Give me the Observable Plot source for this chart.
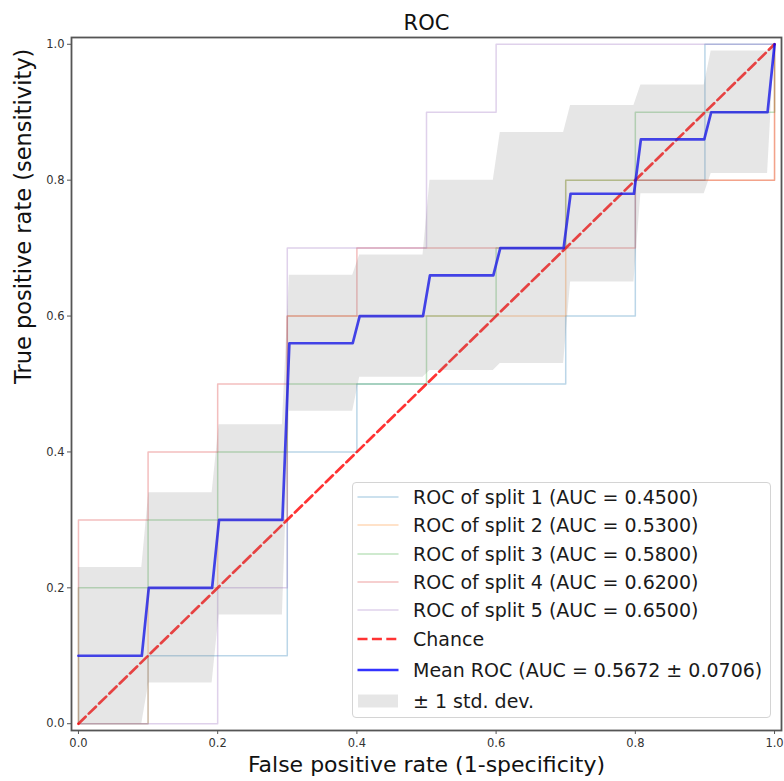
<!DOCTYPE html>
<html>
<head>
<meta charset="utf-8">
<script src="https://cdn.jsdelivr.net/npm/d3@7"></script>
<script src="https://cdn.jsdelivr.net/npm/@observablehq/plot@0.6"></script>
<style>
  body { margin: 0; background: #fff; font-family: "DejaVu Sans", sans-serif; }
  #wrap { position: relative; width: 784px; height: 781px; }
  #legend { position: absolute; left: 352px; top: 482px; width: 419px; height: 236px;
            border: 1px solid #d4d4d4; border-radius: 4px; background: rgba(255,255,255,0.8);
            font-size: 19px; color: #1a1a1a; box-sizing: border-box; }
  .row { position: absolute; left: 0; height: 28px; display: flex; align-items: center; white-space: nowrap; }
  .row svg { position: absolute; left: 4px; top: 0; }
  .row span { position: absolute; left: 60px; line-height: 28px; }
</style>
</head>
<body>
<div id="wrap"></div>
<script>
// ---- data ----
const chartTitle = "ROC";
const xLabel = "False positive rate (1-specificity)";
const yLabel = "True positive rate (sensitivity)";
const tickValues = [0, 0.2, 0.4, 0.6, 0.8, 1.0];

const splitLabels = [
  "ROC of split 1 (AUC = 0.4500)",
  "ROC of split 2 (AUC = 0.5300)",
  "ROC of split 3 (AUC = 0.5800)",
  "ROC of split 4 (AUC = 0.6200)",
  "ROC of split 5 (AUC = 0.6500)"
];
const split1Fpr = [0, 0.1, 0.1, 0.3, 0.3, 0.4, 0.4, 0.7, 0.7, 0.8, 0.8, 0.9, 0.9, 1.0];
const split1Tpr = [0, 0, 0.1, 0.1, 0.4, 0.4, 0.5, 0.5, 0.6, 0.6, 0.8, 0.8, 1.0, 1.0];
const split2Fpr = [0, 0.1, 0.1, 0.2, 0.2, 0.3, 0.3, 0.7, 0.7, 1.0, 1.0];
const split2Tpr = [0, 0, 0.2, 0.2, 0.3, 0.3, 0.6, 0.6, 0.8, 0.8, 1.0];
const split3Fpr = [0, 0, 0.1, 0.1, 0.2, 0.2, 0.3, 0.3, 0.5, 0.5, 0.6, 0.6, 0.7, 0.7, 0.8, 0.8, 1.0, 1.0];
const split3Tpr = [0, 0.2, 0.2, 0.3, 0.3, 0.4, 0.4, 0.5, 0.5, 0.6, 0.6, 0.7, 0.7, 0.8, 0.8, 0.9, 0.9, 1.0];
const split4Fpr = [0, 0, 0.1, 0.1, 0.2, 0.2, 0.3, 0.3, 0.4, 0.4, 0.8, 0.8, 1.0, 1.0];
const split4Tpr = [0, 0.3, 0.3, 0.4, 0.4, 0.5, 0.5, 0.6, 0.6, 0.7, 0.7, 0.8, 0.8, 1.0];
const split5Fpr = [0, 0.2, 0.2, 0.3, 0.3, 0.5, 0.5, 0.6, 0.6, 1.0];
const split5Tpr = [0, 0, 0.2, 0.2, 0.7, 0.7, 0.9, 0.9, 1.0, 1.0];

const chanceLabel = "Chance";
const chanceFpr = [0, 1];
const chanceTpr = [0, 1];

const meanLabel = "Mean ROC (AUC = 0.5672 \u00b1 0.0706)";
const meanFpr = [0, 0.091, 0.101, 0.192, 0.202, 0.293, 0.303, 0.394, 0.404, 0.495, 0.505, 0.596, 0.606, 0.697, 0.707, 0.798, 0.808, 0.899, 0.909, 0.990, 1.0];
const meanTpr = [0.10, 0.10, 0.20, 0.20, 0.30, 0.30, 0.56, 0.56, 0.60, 0.60, 0.66, 0.66, 0.70, 0.70, 0.78, 0.78, 0.86, 0.86, 0.90, 0.90, 1.00];

const bandLabel = "\u00b1 1 std. dev.";
const bandLower = [0, 0, 0.06, 0.06, 0.16, 0.16, 0.46, 0.46, 0.51, 0.51, 0.52, 0.52, 0.53, 0.53, 0.65, 0.65, 0.78, 0.78, 0.81, 0.81, 1.0];
const bandUpper = [0.23, 0.23, 0.34, 0.34, 0.44, 0.44, 0.66, 0.66, 0.69, 0.69, 0.80, 0.80, 0.87, 0.87, 0.91, 0.91, 0.94, 0.94, 0.99, 0.99, 1.0];

// ---- styles ----
const splitColors = ["#1f77b4", "#ff7f0e", "#2ca02c", "#d62728", "#9467bd"];
const font = "DejaVu Sans, sans-serif";

// ---- tables ----
const splitFprs = [split1Fpr, split2Fpr, split3Fpr, split4Fpr, split5Fpr];
const splitTprs = [split1Tpr, split2Tpr, split3Tpr, split4Tpr, split5Tpr];
const splitTables = splitFprs.map((f, i) => f.map((x, j) => ({fpr: x, tpr: splitTprs[i][j]})));
const chanceTable = chanceFpr.map((x, j) => ({fpr: x, tpr: chanceTpr[j]}));
const meanTable = meanFpr.map((x, j) => ({fpr: x, tpr: meanTpr[j]}));
const bandTable = meanFpr.map((x, j) => ({fpr: x, lo: bandLower[j], hi: bandUpper[j]}));

const plot = Plot.plot({
  width: 784,
  height: 781,
  marginLeft: 71,
  marginRight: 3,
  marginTop: 37,
  marginBottom: 51,
  style: {fontFamily: font, background: "#fff", color: "#222"},
  x: {domain: [-0.01, 1.01]},
  y: {domain: [-0.01, 1.01]},
  marks: [
    ...splitTables.map((t, i) => Plot.line(t, {x: "fpr", y: "tpr", stroke: splitColors[i], strokeOpacity: 0.3, strokeWidth: 1.5})),
    Plot.line(chanceTable, {x: "fpr", y: "tpr", stroke: "#ff0000", strokeOpacity: 0.8, strokeWidth: 2.7, strokeDasharray: "10,4.4"}),
    Plot.line(meanTable, {x: "fpr", y: "tpr", stroke: "#0000ff", strokeOpacity: 0.8, strokeWidth: 2.7}),
    Plot.areaY(bandTable, {x: "fpr", y1: "lo", y2: "hi", fill: "#808080", fillOpacity: 0.2}),
    Plot.frame({stroke: "#555", strokeWidth: 1.8}),
    Plot.axisX({ticks: tickValues, tickFormat: d3.format(".1f"), tickSize: 4, tickPadding: 4, fontSize: 11.5, stroke: "#555", fill: "#333", label: null}),
    Plot.axisY({ticks: tickValues, tickFormat: d3.format(".1f"), tickSize: 4, tickPadding: 3, fontSize: 11.5, stroke: "#555", fill: "#333", label: null}),
    Plot.text([chartTitle], {frameAnchor: "top", lineAnchor: "bottom", dy: -8, fontSize: 21, fill: "#111"}),
    Plot.text([xLabel], {frameAnchor: "bottom", lineAnchor: "bottom", dy: 41, fontSize: 22, fill: "#111"}),
    Plot.text([yLabel], {frameAnchor: "left", lineAnchor: "bottom", rotate: -90, dx: -41, fontSize: 22.5, fill: "#111"})
  ]
});

const wrap = document.getElementById("wrap");
wrap.appendChild(plot);

// ---- legend ----
const legend = document.createElement("div");
legend.id = "legend";
const rowCenters = [14, 42, 70.5, 99, 127, 155.5, 187, 218];
const entries = [
  ...splitLabels.map((l, i) => ({label: l, kind: "line", color: splitColors[i], opacity: 0.3, width: 1.5})),
  {label: chanceLabel, kind: "dash", color: "#ff0000", opacity: 0.8, width: 2.7},
  {label: meanLabel, kind: "line", color: "#0000ff", opacity: 0.8, width: 2.7},
  {label: bandLabel, kind: "patch", color: "#808080", opacity: 0.2}
];
entries.forEach((e, i) => {
  const row = document.createElement("div");
  row.className = "row";
  row.style.top = (rowCenters[i] - 14) + "px";
  let handle;
  if (e.kind === "patch") {
    handle = `<svg width="42" height="28"><rect x="1" y="7.5" width="40" height="13" fill="${e.color}" fill-opacity="${e.opacity}"/></svg>`;
  } else {
    const dash = e.kind === "dash" ? ` stroke-dasharray="10,4.4"` : "";
    handle = `<svg width="42" height="28"><line x1="0.5" x2="41.5" y1="14" y2="14" stroke="${e.color}" stroke-opacity="${e.opacity}" stroke-width="${e.width}"${dash}/></svg>`;
  }
  row.innerHTML = handle + `<span>${e.label}</span>`;
  legend.appendChild(row);
});
wrap.appendChild(legend);
</script>
</body>
</html>
